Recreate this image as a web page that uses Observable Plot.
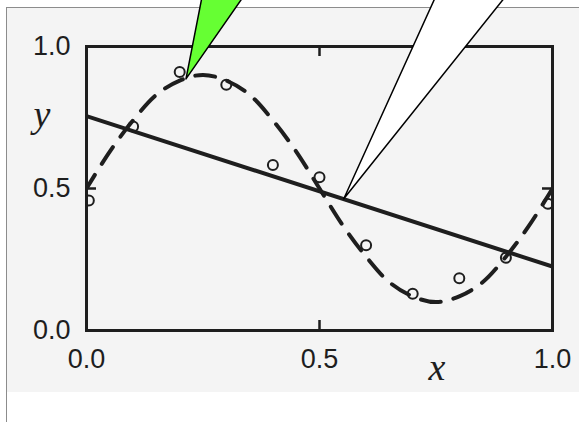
<!DOCTYPE html>
<html>
<head>
<meta charset="utf-8">
<script src="https://cdn.jsdelivr.net/npm/d3@7"></script>
<script src="https://cdn.jsdelivr.net/npm/@observablehq/plot@0.6"></script>
<style>
  html, body { margin: 0; padding: 0; background: #ffffff; }
  #page { position: relative; width: 579px; height: 422px; overflow: hidden; }
  #sheet { position: absolute; left: 6px; top: 7px; width: 573px; height: 384px;
           background: #f4f4f4; border-top: 1px solid #8c8c8c; }
  #edge { position: absolute; left: 6px; top: 7px; width: 1px; height: 415px; background: #8c8c8c; }
  #chart { position: absolute; left: 0; top: 0; }
</style>
</head>
<body>
<div id="page">
  <div id="sheet"></div>
  <div id="edge"></div>
  <div id="chart"></div>
</div>
<script>
// Observed samples (open circles)
const sampleX = [0.005, 0.1, 0.2, 0.3, 0.4, 0.5, 0.6, 0.7, 0.8, 0.9, 0.99];
const sampleY = [0.458, 0.718, 0.91, 0.865, 0.583, 0.54, 0.30, 0.129, 0.184, 0.256, 0.446];

// Smooth underlying curve (dashed)
const curveX = [0, 0.05, 0.1, 0.15, 0.2, 0.25, 0.3, 0.35, 0.4, 0.45, 0.5,
                0.55, 0.6, 0.65, 0.7, 0.75, 0.8, 0.85, 0.9, 0.95, 1];
const curveY = [0.50, 0.63, 0.74, 0.83, 0.88, 0.90, 0.88, 0.83, 0.74, 0.63, 0.50,
                0.37, 0.26, 0.17, 0.12, 0.10, 0.12, 0.17, 0.26, 0.37, 0.50];

// Straight-line fit (solid)
const fitX = [0, 1];
const fitY = [0.755, 0.225];

// Axis ticks
const xTicks = [0, 0.5, 1];
const yTicks = [0, 0.5, 1];
const innerTicks = [0.5];

// Callout pointers: tip, then the two edges running off the top
const greenCalloutX = [0.2135, 0.2547, 0.3605, 0.2135];
const greenCalloutY = [0.886, 1.232, 1.232, 0.886];
const whiteCalloutX = [0.5521, 0.7648, 0.9264, 0.5521];
const whiteCalloutY = [0.4637, 1.232, 1.232, 0.4637];

const ink = "#1e1e1e";
const zip = (xs, ys) => xs.map((x, i) => ({x, y: ys[i]}));
const samples = zip(sampleX, sampleY);
const curve = zip(curveX, curveY);
const fit = zip(fitX, fitY);
const greenCallout = zip(greenCalloutX, greenCalloutY);
const whiteCallout = zip(whiteCalloutX, whiteCalloutY);

const W = 579, H = 422;
const mL = 86, mR = 27, mT = 46, mB = 92;
const fw = W - mL - mR, fh = H - mT - mB;
const fmt = d3.format(".1f");
const serif = "'Liberation Serif', 'Times New Roman', serif";

const chart = Plot.plot({
  width: W,
  height: H,
  marginLeft: mL,
  marginRight: mR,
  marginTop: mT,
  marginBottom: mB,
  x: {domain: [0, 1]},
  y: {domain: [0, 1]},
  style: {background: "transparent", overflow: "visible",
          fontFamily: "'Liberation Sans', Arial, sans-serif", color: ink},
  marks: [
    Plot.axisY(yTicks, {tickSize: 0, tickPadding: 16, fontSize: 27, tickFormat: fmt, label: null, fill: ink}),
    Plot.axisX(xTicks, {tickSize: 0, tickPadding: 18, fontSize: 27, tickFormat: fmt, label: null, fill: ink}),
    // inward tick marks at the midpoints of each side
    Plot.tickX(innerTicks, {x: d => d, insetTop: fh - 10, stroke: ink, strokeWidth: 2.5}),
    Plot.tickX(innerTicks, {x: d => d, insetBottom: fh - 10, stroke: ink, strokeWidth: 2.5}),
    Plot.tickY(innerTicks, {y: d => d, insetRight: fw - 10, stroke: ink, strokeWidth: 2.5}),
    Plot.tickY(innerTicks, {y: d => d, insetLeft: fw - 10, stroke: ink, strokeWidth: 2.5}),
    Plot.line(curve, {x: "x", y: "y", curve: "catmull-rom", stroke: ink, strokeWidth: 4,
                      strokeDasharray: "20,13", strokeDashoffset: 4, clip: true}),
    Plot.line(fit, {x: "x", y: "y", stroke: ink, strokeWidth: 4, clip: true}),
    Plot.dot(samples, {x: "x", y: "y", r: 5, stroke: ink, strokeWidth: 2, fill: "none", clip: true}),
    Plot.frame({stroke: ink, strokeWidth: 3}),
    Plot.text(["y"], {frameAnchor: "top-left", dx: 33 - mL, dy: 54, fontSize: 38,
                      fontFamily: serif, fontStyle: "italic", fill: ink}),
    Plot.text(["x"], {frameAnchor: "bottom-left", dx: 428 - mL, dy: 49, fontSize: 38,
                      fontFamily: serif, fontStyle: "italic", fill: ink}),
    Plot.line(greenCallout, {x: "x", y: "y", fill: "#66ff33", stroke: "#000", strokeWidth: 1.5, strokeLinejoin: "miter"}),
    Plot.line(whiteCallout, {x: "x", y: "y", fill: "#ffffff", stroke: "#000", strokeWidth: 1.5, strokeLinejoin: "miter"})
  ]
});
document.getElementById("chart").append(chart);
</script>
</body>
</html>
